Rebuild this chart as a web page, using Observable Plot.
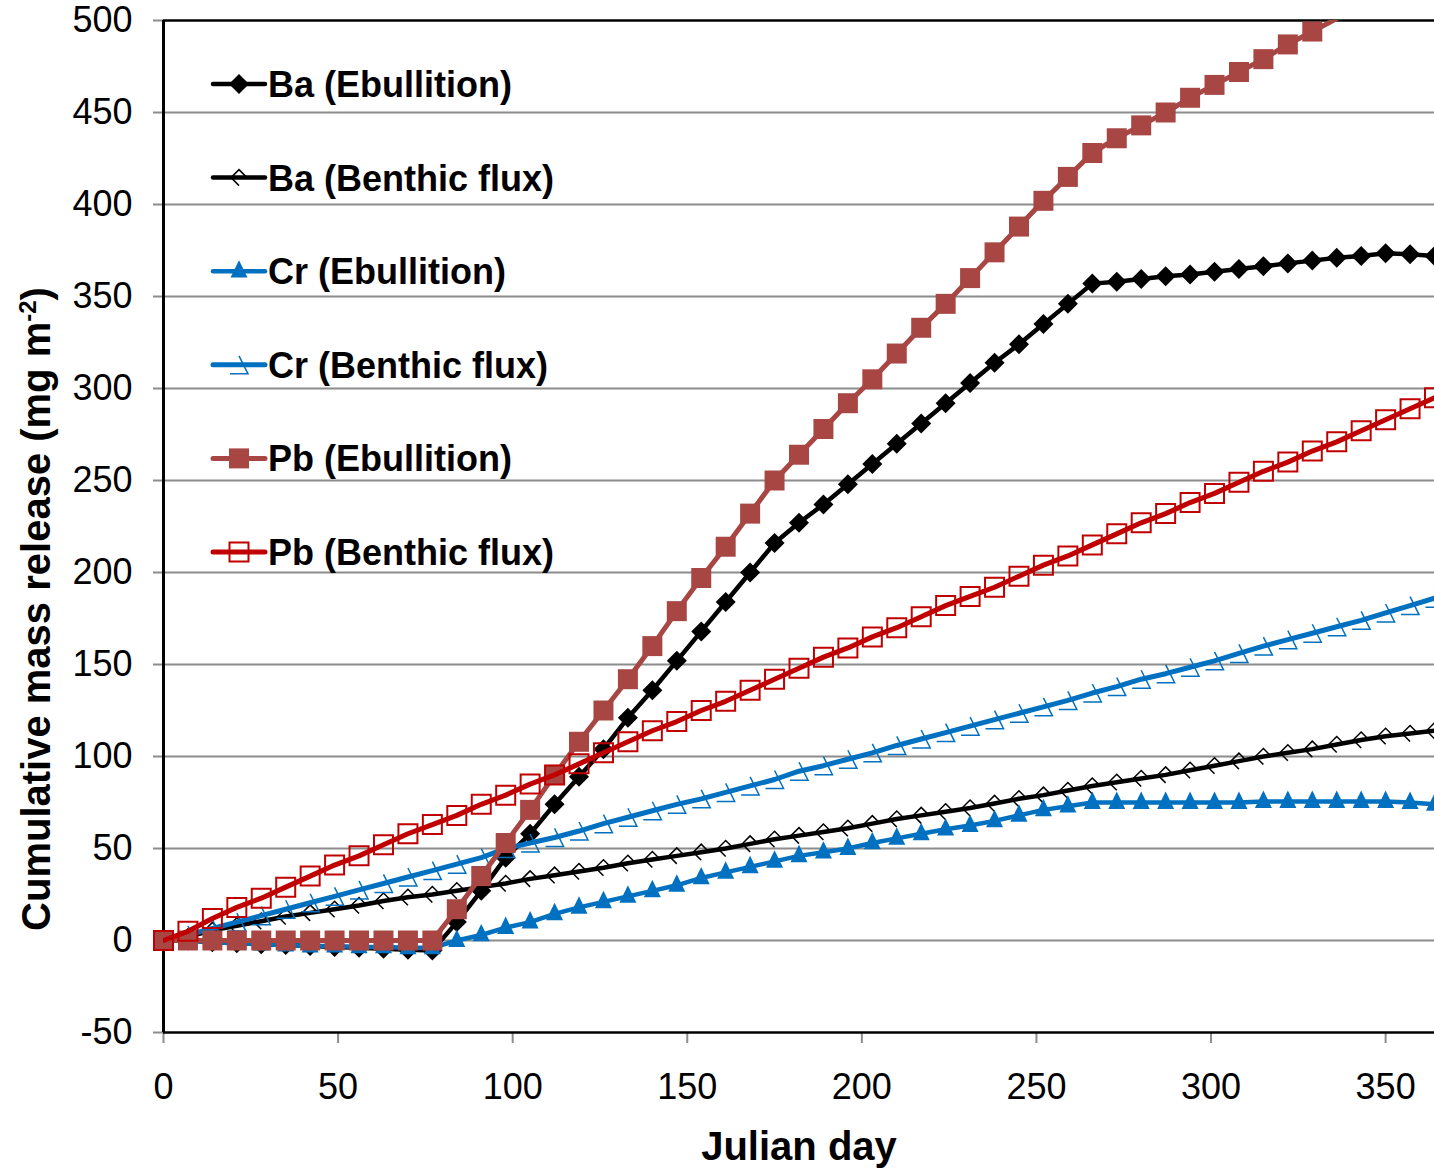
<!DOCTYPE html>
<html><head><meta charset="utf-8">
<script src="https://cdn.jsdelivr.net/npm/d3@7"></script>
<script src="https://cdn.jsdelivr.net/npm/@observablehq/plot@0.6"></script>
<style>
html,body{margin:0;padding:0;background:#fff;overflow:hidden}
svg{display:block}
</style>
</head><body><div id="chart"></div>
<script>
const days = [0,7,14,21,28,35,42,49,56,63,70,77,84,91,98,105,112,119,126,133,140,147,154,161,168,175,182,189,196,203,210,217,224,231,238,245,252,259,266,273,280,287,294,301,308,315,322,329,336,343,350,357,364];

const baEbullition = [0,0,-1,-1.5,-2,-2.5,-3,-3.5,-4,-4.5,-5,-5.5,
  10,27,45,58,74,89,104,121,136,152,168,184,200,216,
  227,237,248,259,270,281,292,303,314,324,335,346,357,
  358,359.5,361,362,363.5,365,366.5,368,369.5,371,372,373.5,373,372];
const baBenthic = [0,2,5.5,8,10.5,13,15,17,19,21.5,23.5,25,
  27,29,31,33.5,35.5,37.5,39.5,42,44,46,48,50,52.5,55,
  57,59,61,63.5,66,68,70,72,74.5,77,79,81.5,84,
  86,88,90,92.5,95,97.5,100,102,104,106.5,109,111,112.5,114];
const crEbullition = [0,0,-1,-1.5,-2,-2.5,-3,-3,-3.5,-3.5,-4,-4,
  0,3,7,10,14.5,18,21,24,27,30,34,37,40,43,
  46,48,50,53,55.5,58,60.5,62.5,65,68,71,73,75,
  75,75,75,75,75,75,75.5,75.5,75.5,75.5,75.5,75.5,75,74];
const crBenthic = [0,3,6.5,10,13.5,17,20.5,24,27.5,31,34.5,38,
  41.5,45,50,53,56,59.5,63.5,67,70.5,74,77,80.5,84,87.5,
  92,95,98.5,102,106,109.5,113,116.5,120,123.5,127,130.5,134.5,
  138,142,145,148.5,152,156,160,163.5,167,170.5,174,178,182,186];
const pbEbullition = [0,0,0,0,0,0,0,0,0,0,0,0,
  17,35,53,71,90,108,125,142,160,179,197,214,232,250,
  264,278,292,305,319,333,346,360,374,388,402,415,428,
  436,443,450,458,465,472,479,487,494,501,508,515,522,529];
const pbBenthic = [0,5,12,18,23,29,35,41,46,52,58,63,
  68,74,79,85,90,96,102,108,114,119,125,130,136,142,
  148,154,159,165,170,176,182,187,192,198,204,209,215,
  221,227,232,238,243,249,255,260,266,271,277,283,289,295];

const seriesNames = ["Ba (Ebullition)","Ba (Benthic flux)","Cr (Ebullition)","Cr (Benthic flux)","Pb (Ebullition)","Pb (Benthic flux)"];
const seriesValues = [baEbullition, baBenthic, crEbullition, crBenthic, pbEbullition, pbBenthic];
const yTicks = [-50,0,50,100,150,200,250,300,350,400,450,500];
const xTicks = [0,50,100,150,200,250,300,350];
const xTitle = "Julian day";
const yTitle = "Cumulative mass release (mg m";
const yTitleSup = "-2";
const yTitleEnd = ")";

// custom marker shapes
const rad = s => Math.sqrt(s / Math.PI);
const symDiamond = {draw(c, s){const r = rad(s); c.moveTo(0,-r); c.lineTo(r,0); c.lineTo(0,r); c.lineTo(-r,0); c.closePath();}};
const symOpenDiamond = {draw(c, s){const r = rad(s); c.moveTo(0,r); c.lineTo(-r,0); c.lineTo(0,-r); c.lineTo(r,0);}};
const symTriangle = {draw(c, s){const r = rad(s); c.moveTo(0,-1.3*r); c.lineTo(r,0.75*r); c.lineTo(-r,0.75*r); c.closePath();}};
const symOpenTriangle = {draw(c, s){const r = rad(s); c.moveTo(0,-r); c.lineTo(r,r); c.lineTo(-r,r);}};
const symSquare = {draw(c, s){const r = rad(s); c.rect(-r,-r,2*r,2*r);}};

const styles = [
  {color:"#000000", lw:4.5, sym:symDiamond, r:10, fill:"#000000", stroke:"none", sw:0},
  {color:"#000000", lw:4.5, sym:symOpenDiamond, r:8, fill:"none", stroke:"#000000", sw:1.5},
  {color:"#0070C0", lw:4.5, sym:symTriangle, r:8.5, fill:"#0070C0", stroke:"none", sw:0},
  {color:"#0070C0", lw:5, sym:symOpenTriangle, r:9, fill:"none", stroke:"#0070C0", sw:1.5},
  {color:"#A84644", lw:5, sym:symSquare, r:10, fill:"#A84644", stroke:"none", sw:0},
  {color:"#C00000", lw:5, sym:symSquare, r:9.5, fill:"none", stroke:"#C00000", sw:2}
];

const data = seriesNames.map((name, k) => days.map((d, i) => ({day: d, value: seriesValues[k][i], series: name})));

const W = 1434, H = 1171;
const marks = [
  Plot.ruleY(yTicks.filter(v => v > -50 && v < 500), {y: d => d, stroke: "#8c8c8c", strokeWidth: 2}),
  Plot.axisY({ticks: yTicks, tickSize: 10, tickPadding: 21, tickFormat: d => String(d), stroke: "#8c8c8c", strokeWidth: 2, fill: "#000", fontSize: 36, label: null}),
  Plot.axisX({ticks: xTicks, tickSize: 11, tickPadding: 30, tickFormat: d => String(d), stroke: "#8c8c8c", strokeWidth: 2, fill: "#000", fontSize: 36, label: null}),
  Plot.ruleY([500], {stroke: "#000", strokeWidth: 2.5}),
  Plot.ruleY([-50], {stroke: "#000", strokeWidth: 2.5}),
  Plot.ruleX([0], {stroke: "#000", strokeWidth: 3})
];
data.forEach((arr, k) => {
  const s = styles[k];
  marks.push(Plot.line(arr, {x: "day", y: "value", stroke: s.color, strokeWidth: s.lw, clip: true, curve: "linear"}));
  marks.push(Plot.dot(arr, {x: "day", y: "value", filter: d => d.value <= 500, symbol: s.sym, r: s.r, fill: s.fill, stroke: s.stroke, strokeWidth: s.sw}));
});

const chart = Plot.plot({
  width: W, height: H,
  marginLeft: 163, marginRight: 0, marginTop: 20, marginBottom: 139,
  x: {domain: [0, 364], axis: null},
  y: {domain: [-50, 500], axis: null},
  style: {fontFamily: "'Liberation Sans', Arial, sans-serif", fontSize: "36px", color: "#000", background: "#fff"},
  marks
});
document.getElementById("chart").appendChild(chart);

const svg = d3.select(chart);
const font = "'Liberation Sans', Arial, sans-serif";
// axis titles
const yt = svg.append("text")
  .attr("transform", "translate(50,609) rotate(-90)")
  .attr("text-anchor", "middle")
  .style("font-family", font)
  .style("font-size", "40px").style("font-weight", "bold").attr("fill", "#000");
yt.append("tspan").text(yTitle);
yt.append("tspan").attr("dy", "-14").style("font-size", "24px").text(yTitleSup);
yt.append("tspan").attr("dy", "14").text(yTitleEnd);

svg.append("text")
  .attr("x", 799).attr("y", 1160)
  .attr("text-anchor", "middle")
  .style("font-family", font)
  .style("font-size", "40px").style("font-weight", "bold").attr("fill", "#000")
  .text(xTitle);

// legend
const lg = svg.append("g");
seriesNames.forEach((name, k) => {
  const s = styles[k];
  const cy = 84 + k * 93.6;
  const g = lg.append("g");
  g.append("line").attr("x1", 213).attr("x2", 265).attr("y1", cy).attr("y2", cy)
    .attr("stroke", s.color).attr("stroke-width", s.lw).attr("stroke-linecap", "round");
  g.append("path").attr("transform", `translate(239,${cy})`)
    .attr("d", d3.symbol(s.sym, Math.PI * s.r * s.r)())
    .attr("fill", s.fill).attr("stroke", s.stroke).attr("stroke-width", s.sw);
  g.append("text").attr("x", 268).attr("y", cy + 13)
    .attr("text-anchor", "start")
    .style("font-family", font)
    .style("font-size", "36px").style("font-weight", "bold").attr("fill", "#000")
    .text(name);
});
</script>
</body></html>
